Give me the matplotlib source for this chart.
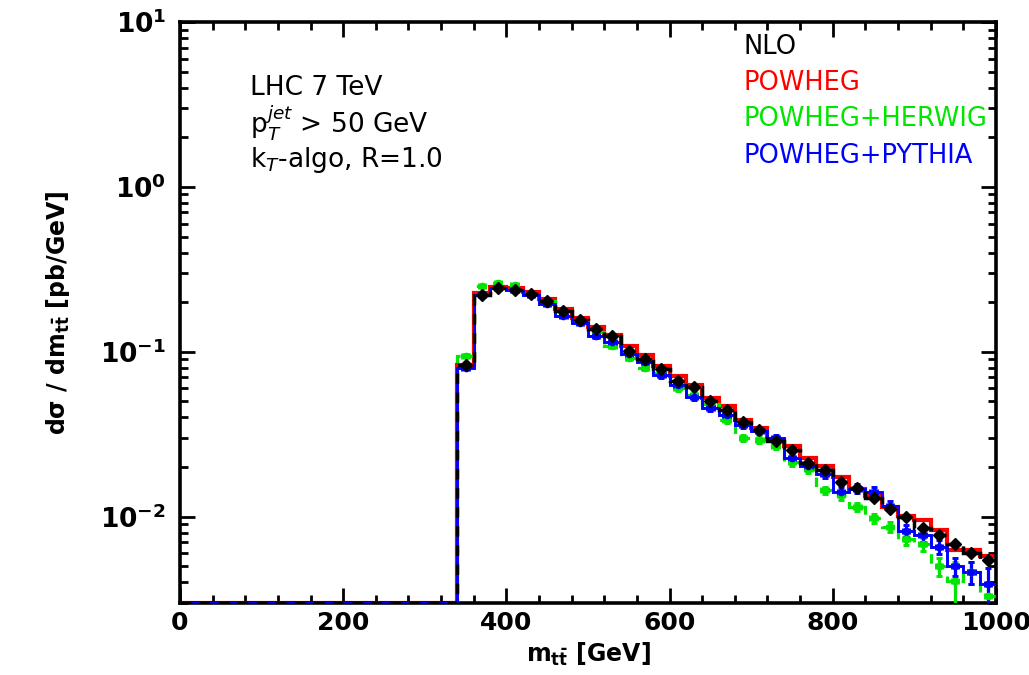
import numpy as np
import matplotlib
matplotlib.use("Agg")
import matplotlib.pyplot as plt
from matplotlib.ticker import FixedLocator, LogLocator, NullFormatter

# m_ttbar bins [GeV]: one empty bin below threshold, then 20 GeV bins up to 1000
bin_edges = [0] + list(range(340, 1001, 20))

# d sigma / d m_ttbar [pb/GeV] per bin (first entry: empty region below 340 GeV)
nlo = [0.0,
       0.083, 0.221, 0.243, 0.238, 0.224, 0.202, 0.178, 0.156, 0.137, 0.124,
       0.101, 0.090, 0.0785, 0.067, 0.061, 0.050, 0.0445, 0.0378, 0.0334, 0.0288,
       0.0255, 0.0213, 0.0191, 0.0162, 0.0149, 0.0130, 0.0111, 0.0100, 0.0086, 0.0077,
       0.0068, 0.0060, 0.0055]
powheg = [0.0,
          0.083, 0.228, 0.248, 0.243, 0.229, 0.208, 0.183, 0.161, 0.142, 0.127,
          0.108, 0.096, 0.082, 0.071, 0.063, 0.0525, 0.0467, 0.0388, 0.0345, 0.0293,
          0.0267, 0.0226, 0.0202, 0.0175, 0.0148, 0.0133, 0.0114, 0.0101, 0.0095, 0.0083,
          0.0063, 0.0063, 0.0058]
herwig = [0.0,
          0.095, 0.250, 0.262, 0.253, 0.225, 0.203, 0.172, 0.153, 0.131, 0.108,
          0.092, 0.080, 0.074, 0.060, 0.055, 0.048, 0.0388, 0.0300, 0.0293, 0.0270,
          0.0215, 0.0195, 0.0145, 0.0135, 0.0115, 0.0098, 0.0087, 0.0073, 0.0068, 0.0050,
          0.0041, 0.0046, 0.0033]
pythia = [0.0,
          0.080, 0.222, 0.245, 0.236, 0.222, 0.196, 0.166, 0.150, 0.124, 0.115,
          0.097, 0.087, 0.072, 0.063, 0.053, 0.0455, 0.0415, 0.036, 0.033, 0.030,
          0.0228, 0.0202, 0.0181, 0.0142, 0.0148, 0.0142, 0.0116, 0.0082, 0.0077, 0.0066,
          0.0050, 0.0046, 0.0039]

# relative statistical uncertainties of the shower samples
herwig_rel_err = [0.0,
                  0.02, 0.015, 0.015, 0.015, 0.015, 0.015, 0.02, 0.02, 0.02, 0.025,
                  0.025, 0.03, 0.03, 0.03, 0.035, 0.035, 0.04, 0.04, 0.04, 0.045,
                  0.05, 0.05, 0.05, 0.06, 0.06, 0.06, 0.07, 0.08, 0.09, 0.12,
                  0.30, 0.15, 0.20]
pythia_rel_err = [0.0,
                  0.02, 0.015, 0.015, 0.015, 0.015, 0.015, 0.02, 0.02, 0.02, 0.025,
                  0.025, 0.03, 0.03, 0.03, 0.035, 0.035, 0.04, 0.04, 0.04, 0.045,
                  0.05, 0.05, 0.05, 0.06, 0.06, 0.07, 0.07, 0.08, 0.09, 0.10,
                  0.12, 0.15, 0.25]

YMIN, YMAX = 3e-3, 10.0

edges = np.array(bin_edges, dtype=float)
centers = 0.5 * (edges[:-1] + edges[1:])

def floor(v):
    v = np.asarray(v, dtype=float)
    return np.where(v > 0, v, YMIN)

fig = plt.figure(figsize=(10.29, 6.75), dpi=100)
ax = fig.add_axes([0.1749, 0.1067, 0.793, 0.8607])
ax.set_yscale("log")

RED, GREEN, BLUE = "#ff0000", "#00e600", "#0000ff"

ax.stairs(floor(powheg), edges, baseline=None, color=RED, lw=3.0, zorder=2)
ax.stairs(floor(herwig), edges, baseline=None, color=GREEN, lw=2.3,
          linestyle=(0, (3, 3)), zorder=3)
ax.stairs(floor(pythia), edges, baseline=None, color=BLUE, lw=2.1, zorder=3)
ax.stairs(floor(nlo), edges, baseline=None, color="black", lw=2.5,
          linestyle=(0, (3, 2.5)), zorder=4)

m = centers[1:]
for vals, rel, col in ((herwig, herwig_rel_err, GREEN), (pythia, pythia_rel_err, BLUE)):
    v = np.array(vals[1:])
    e = v * np.array(rel[1:])
    ax.errorbar(m, v, yerr=e, xerr=4, fmt="o", ms=4.5, color=col, ecolor=col,
                elinewidth=2.3, capsize=2.5, capthick=2.1, zorder=5)

ax.errorbar(m, np.array(nlo[1:]), xerr=5, fmt="D", ms=6, color="black",
            elinewidth=2.3, zorder=6)

ax.set_xlim(0, 1000)
ax.set_ylim(YMIN, YMAX)

ax.xaxis.set_major_locator(FixedLocator([0, 200, 400, 600, 800, 1000]))
ax.xaxis.set_minor_locator(FixedLocator(np.arange(0, 1001, 40)))
ax.yaxis.set_major_locator(FixedLocator([1e-2, 1e-1, 1, 10]))
ax.yaxis.set_minor_locator(LogLocator(base=10, subs=np.arange(2, 10)))
ax.yaxis.set_minor_formatter(NullFormatter())
ax.set_yticklabels([r"$\mathbf{10^{-2}}$", r"$\mathbf{10^{-1}}$",
                    r"$\mathbf{10^{0}}$", r"$\mathbf{10^{1}}$"])

ax.tick_params(which="both", direction="in", top=True, right=True, width=2)
ax.tick_params(which="major", length=11, pad=10)
ax.tick_params(axis="y", which="major", labelsize=19)
ax.tick_params(axis="x", which="major", labelsize=18, pad=6)
ax.tick_params(which="minor", length=6)
for lab in ax.get_xticklabels():
    lab.set_fontweight("bold")
for s in ax.spines.values():
    s.set_linewidth(2.6)

ax.set_xlabel(r"$\mathbf{m_{t\bar{t}}}$ [GeV]", fontsize=17, fontweight="bold",
              labelpad=4)
ax.set_ylabel(r"d$\mathbf{\sigma}$ / d$\mathbf{m_{t\bar{t}}}$ [pb/GeV]",
              fontsize=17, fontweight="bold", labelpad=20)

tk = dict(transform=ax.transAxes, fontsize=19, va="center", ha="left")
ax.text(0.086, 0.887, "LHC 7 TeV", **tk)
ax.text(0.086, 0.826, r"p$_T^{jet}$ > 50 GeV", **tk)
ax.text(0.086, 0.762, r"k$_T$-algo, R=1.0", **tk)

lx = 0.690
lk = dict(tk, fontsize=18.5)
ax.text(lx, 0.957, "NLO", color="black", **lk)
ax.text(lx, 0.895, "POWHEG", color=RED, **lk)
ax.text(lx, 0.833, "POWHEG+HERWIG", color=GREEN, **lk)
ax.text(lx, 0.770, "POWHEG+PYTHIA", color=BLUE, **lk)

fig.savefig("out.png", dpi=100)
